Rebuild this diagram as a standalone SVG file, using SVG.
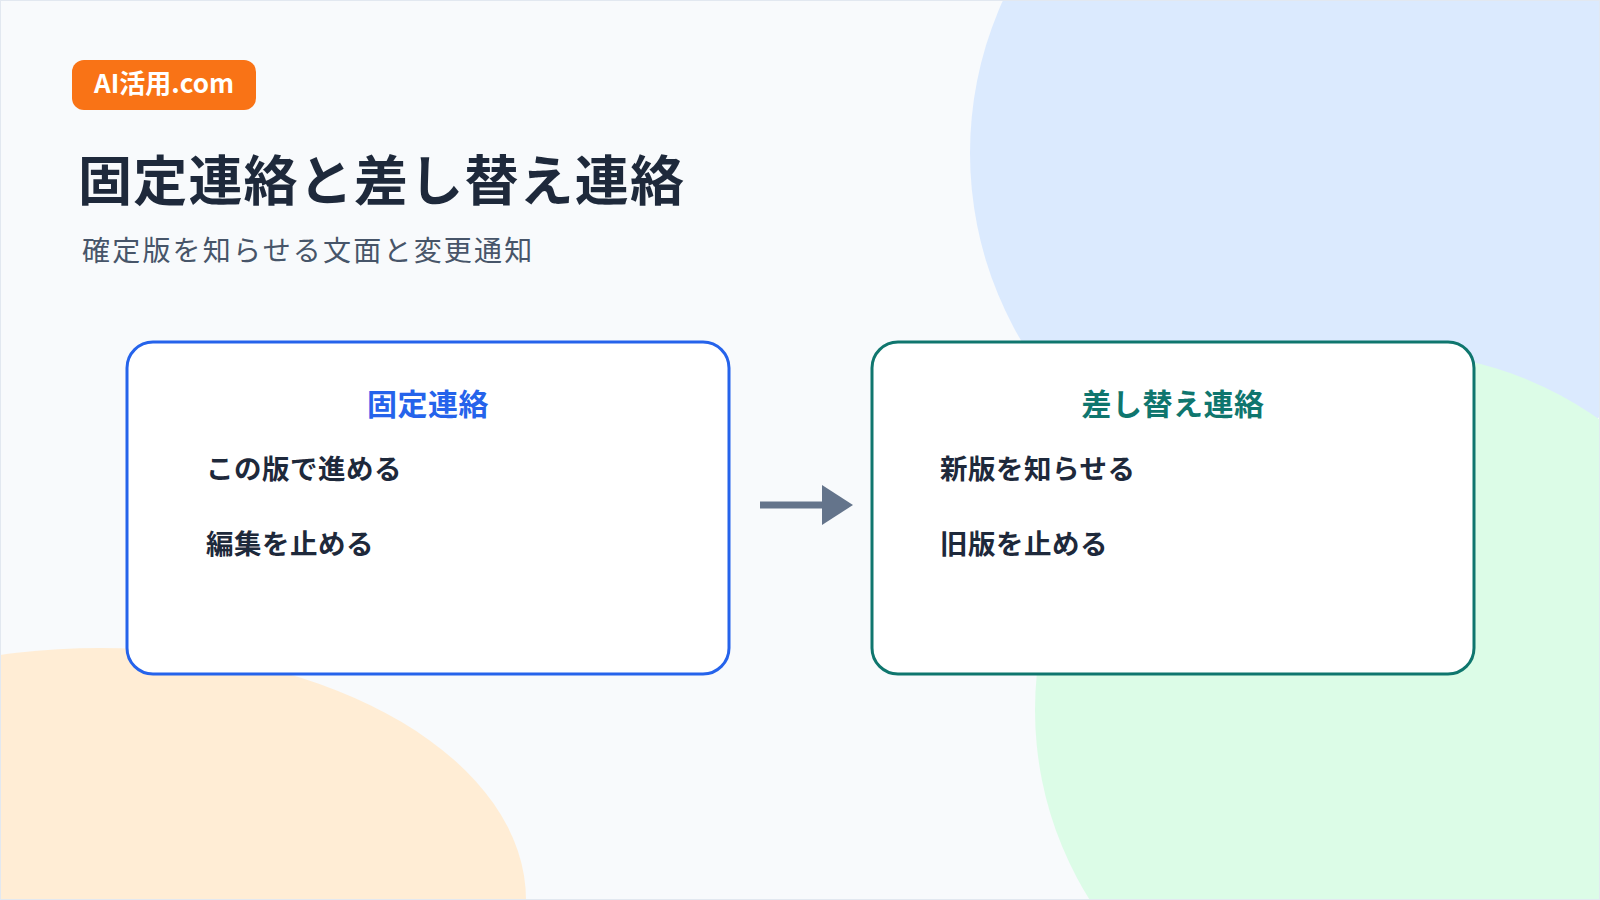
<svg xmlns="http://www.w3.org/2000/svg" width="1600" height="900" viewBox="0 0 1600 900">
<style>
.t{font-family:"Noto Sans CJK JP","Noto Sans",sans-serif}
.item{font-size:27.5px;font-weight:700;fill:#1e293b;letter-spacing:0.5px}
.box{fill:#ffffff;stroke-width:3}
</style>
<rect width="1600" height="900" fill="#f8fafc"/>
<circle cx="1340" cy="153" r="370" fill="#dbeafe"/>
<circle cx="1392" cy="710" r="357" fill="#dcfce7"/>
<ellipse cx="100" cy="900" rx="426" ry="252" fill="#ffedd5"/>
<rect x="0.5" y="0.5" width="1599" height="899" fill="none" stroke="#e2e8f0"/>
<g id="badge"><rect x="72" y="60" width="184" height="50" rx="12" fill="#f97316"/>
<text class="t" x="164" y="93" text-anchor="middle" font-size="26" font-weight="700" fill="#fff">AI活用.com</text></g>
<text class="t" x="78" y="201" font-size="54" font-weight="700" fill="#1e293b" letter-spacing="1.2">固定連絡と差し替え連絡</text>
<text class="t" x="82" y="261" font-size="28" fill="#475569" letter-spacing="2.2">確定版を知らせる文面と変更通知</text>
<g id="left"><rect class="box" x="127" y="342" width="602" height="332" rx="26" stroke="#2563eb"/>
<text class="t" x="428" y="415" text-anchor="middle" font-size="30" font-weight="700" fill="#2563eb" letter-spacing="0.5">固定連絡</text>
<text class="t item" x="206" y="479">この版で進める</text>
<text class="t item" x="206" y="554">編集を止める</text></g>
<g id="right"><rect class="box" x="872" y="342" width="602" height="332" rx="26" stroke="#0f766e"/>
<text class="t" x="1173" y="415" text-anchor="middle" font-size="30" font-weight="700" fill="#0f766e" letter-spacing="0.5">差し替え連絡</text>
<text class="t item" x="940" y="479">新版を知らせる</text>
<text class="t item" x="940" y="554">旧版を止める</text></g>
<g id="connectors"><line x1="760" y1="505" x2="824" y2="505" stroke="#64748b" stroke-width="7"/>
<polygon points="822,485 853,505 822,525" fill="#64748b"/></g>
</svg>
